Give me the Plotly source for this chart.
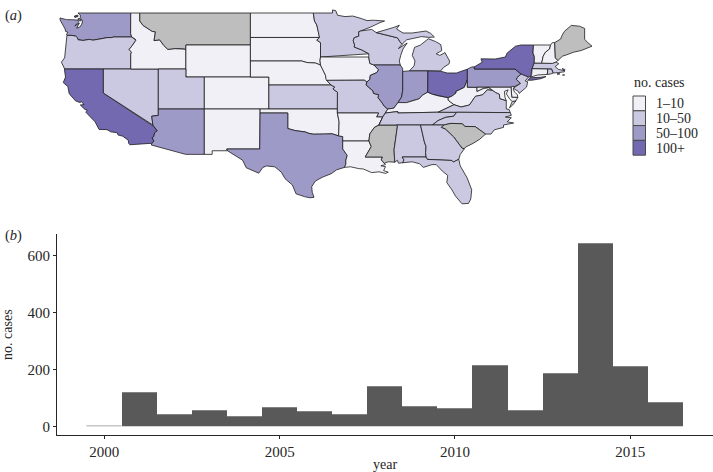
import plotly.graph_objects as go

# ---------- panel (b): annual case counts ----------
YEARS = list(range(2000, 2017))
CASES = [1, 118, 42, 57, 36, 67, 54, 42, 140, 70, 64, 214, 56, 187, 642, 210, 84]
X_TICKS = [2000, 2005, 2010, 2015]
Y_TICKS = [0, 200, 400, 600]

# ---------- panel (a): case class per state ----------
CLASS_LABELS = ["1\u201310", "10\u201350", "50\u2013100", "100+"]
CLASS_COLOURS = ["#F2F0F7", "#CBC9E2", "#9E9AC8", "#7369B0"]
NO_DATA_COLOUR = "#BEBEBE"
STATE_CLASS = {
    "WA": 2, "OR": 1, "CA": 3, "NV": 1, "ID": 0, "MT": None, "WY": 0, "UT": 1, "AZ": 2,
    "CO": 0, "NM": 0, "ND": 0, "SD": 0, "NE": 0, "KS": 1, "OK": 0, "TX": 2, "MN": 1,
    "IA": 0, "MO": 1, "AR": 0, "LA": 0, "WI": 1, "IL": 2, "MS": None, "MI": 1, "IN": 2,
    "KY": 0, "TN": 1, "AL": 1, "OH": 3, "WV": 0, "VA": 1, "NC": 1, "SC": None, "GA": 1,
    "FL": 1, "PA": 2, "NY": 3, "NJ": 1, "DE": 0, "MD": 0, "CT": 0, "RI": 1, "MA": 1,
    "VT": 0, "NH": 0, "ME": None,
}

# ---------- state outlines, (longitude, latitude) ----------
COLUMBIA = [(-123.95,46.2),(-123.4,46.2),(-123.0,46.1),(-122.8,45.9),(-122.75,45.65),(-122.2,45.57),(-121.5,45.7),(-121.15,45.6),(-120.5,45.72),(-119.6,45.92),(-119.0,45.93),(-118.98,46.0),(-116.92,46.0)]
SNAKE = [(-116.92,46.0),(-116.55,45.75),(-116.47,45.6),(-116.85,44.95),(-117.2,44.45),(-117.03,44.2),(-116.95,44.1),(-117.03,43.85),(-117.03,42.0)]
BITTERROOT = [(-116.05,49),(-116.05,48.0),(-115.7,47.45),(-114.7,46.7),(-114.35,46.65),(-114.5,45.55),(-113.9,45.65),(-113.45,44.95),(-113.0,44.45),(-112.3,44.55),(-111.5,44.55),(-111.05,44.48)]
COLORADO_R = [(-114.75,36.1),(-114.63,35.0),(-114.57,34.85),(-114.15,34.27),(-114.43,34.05),(-114.53,33.55),(-114.72,33.4),(-114.5,33.0),(-114.72,32.72)]
RED_R = [(-100,34.56),(-99.2,34.3),(-98.1,34.13),(-97.7,33.95),(-97.2,33.85),(-96.6,33.85),(-96.0,33.85),(-95.2,33.9),(-94.48,33.64)]
MISSOURI_R = [(-98.5,43.0),(-97.9,42.8),(-97.0,42.75),(-96.45,42.49),(-96.35,42.2),(-96.1,41.7),(-95.9,41.2),(-95.85,40.7),(-95.77,40.58),(-95.31,40.0)]
RED_N = [(-97.23,49),(-97.1,48.0),(-96.85,47.5),(-96.6,46.3),(-96.56,45.94)]
MN_SD = [(-96.56,45.94),(-96.85,45.6),(-96.45,45.3),(-96.45,43.5)]
MN_WI = [(-92.1,46.75),(-92.3,46.66),(-92.3,46.1),(-92.8,45.9),(-92.9,45.55),(-92.75,45.0),(-92.8,44.75),(-91.95,44.37),(-91.2,43.9),(-91.22,43.5)]
UPPER_MISS = [(-91.22,43.5),(-91.1,42.7),(-90.65,42.5),(-90.15,41.9),(-90.35,41.55),(-91.05,41.2),(-91.1,40.7),(-91.42,40.38)]
MO_IL = [(-91.42,40.38),(-91.5,40.0),(-90.75,39.25),(-90.7,38.95),(-90.15,38.8),(-90.2,38.4),(-89.85,37.9),(-89.5,37.3),(-89.15,37.0)]
LOWER_MISS = [(-89.7,36.0),(-90.1,35.0),(-90.6,34.7),(-91.1,33.9),(-91.2,33.0)]
LA_MS = [(-91.2,33.0),(-90.95,32.3),(-91.6,31.0),(-89.73,31.0),(-89.85,30.65),(-89.55,30.2)]
OHIO_IL = [(-89.15,37.0),(-88.5,37.1),(-88.05,37.8)]
OHIO_IN = [(-88.05,37.8),(-87.1,37.8),(-86.3,38.1),(-85.75,38.27),(-85.4,38.72),(-84.82,39.1)]
OHIO_OH = [(-84.82,39.1),(-84.3,38.85),(-83.7,38.65),(-82.6,38.42)]
OHIO_WV = [(-82.6,38.42),(-82.2,38.6),(-81.75,39.0),(-81.75,39.2),(-80.85,39.7),(-80.52,40.64)]
KY_WV = [(-82.6,38.42),(-82.6,38.1),(-81.97,37.54)]
VA_WV = [(-81.97,37.54),(-81.2,37.25),(-80.3,37.5),(-79.65,38.58),(-78.87,38.77),(-78.35,39.4),(-77.75,39.32)]
POTOMAC = [(-77.75,39.32),(-77.5,39.1),(-77.05,38.85),(-77.0,38.3),(-76.3,38.05)]
MD_WV = [(-77.75,39.32),(-78.2,39.68),(-78.75,39.6),(-79.48,39.2),(-79.48,39.72)]
TN_NC = [(-84.32,35.0),(-83.7,35.55),(-82.9,35.95),(-82.0,36.1),(-81.68,36.59)]
NC_SC = [(-83.1,35.0),(-82.3,35.2),(-81.05,35.15),(-80.8,34.82),(-79.67,34.8),(-78.55,33.86)]
SAVANNAH = [(-83.1,35.0),(-83.35,34.7),(-82.9,34.48),(-82.0,33.5),(-81.4,32.6),(-81.1,32.1),(-80.85,32.03)]
AL_GA = [(-85.6,35.0),(-85.18,32.87),(-85.0,32.3),(-85.05,31.55),(-85.0,31.0)]
GA_FL = [(-85.0,31.0),(-84.86,30.7),(-82.2,30.57),(-82.05,30.36),(-81.45,30.72)]
TX_LA = [(-94.04,33.0),(-94.04,32.0),(-93.55,31.2),(-93.7,30.6),(-93.7,30.1),(-93.85,29.7)]
NY_PA = [(-79.76,42.0),(-75.35,42.0),(-74.7,41.36)]
DELAWARE_R = [(-74.7,41.36),(-75.1,40.95),(-75.2,40.7),(-74.75,40.2),(-75.4,39.8)]
MI_WI = [(-90.4,46.55),(-89.1,46.15),(-88.1,45.9),(-87.8,45.35),(-87.6,45.1)]
VT_NH = [(-71.5,45.0),(-71.6,44.5),(-72.05,44.1),(-72.3,43.6),(-72.46,42.73)]
NY_NE = [(-73.35,45.0),(-73.4,44.0),(-73.25,43.55),(-73.27,42.75),(-73.5,42.05),(-73.55,41.3),(-73.65,41.0)]
NH_ME = [(-71.05,45.3),(-70.98,43.4),(-70.7,43.07)]

def rev(p):
    return list(reversed(p))

WA = [[(-122.75,49),(-117.03,49),(-117.04,46.42),(-116.92,46.0)] + rev(COLUMBIA) +
      [(-124.0,46.3),(-123.85,46.6),(-124.1,46.7),(-124.15,47.0),(-124.4,47.6),(-124.7,48.15),(-124.7,48.38),(-124.0,48.17),(-123.2,48.15),(-122.75,48.1),(-122.65,47.9),(-122.95,47.55),(-123.1,47.4),(-122.6,47.75),(-122.9,47.1),(-122.55,47.25),(-122.35,47.6),(-122.25,48.0),(-122.5,48.4),(-122.5,48.75)],
      [(-122.75,48.15),(-122.4,48.0),(-122.55,48.3),(-122.75,48.3)],
      [(-123.15,48.5),(-122.95,48.45),(-122.95,48.65),(-123.1,48.65)],
      [(-122.95,48.55),(-122.75,48.55),(-122.75,48.72),(-122.95,48.7)]]
OR = [COLUMBIA + SNAKE[1:] + [(-124.2,42),(-124.4,42.5),(-124.55,42.85),(-124.2,43.4),(-124.1,44.5),(-123.95,45.5)]]
CA = [[(-124.2,42),(-120,42),(-120,39)] + COLORADO_R[1:] +
      [(-117.12,32.53),(-117.25,32.7),(-117.3,33.1),(-117.9,33.6),(-118.4,33.75),(-118.5,34.03),(-119.2,34.15),(-119.6,34.42),(-120.47,34.45),(-120.65,34.9),(-120.9,35.4),(-121.9,36.6),(-121.75,36.85),(-122.0,36.95),(-122.5,37.5),(-122.1,37.55),(-122.4,37.95),(-122.5,37.8),(-123.0,38.0),(-123.7,38.9),(-123.85,39.8),(-124.35,40.3),(-124.1,41.0),(-124.2,41.75)]]
NV = [[(-120,42),(-114.04,42),(-114.04,36.2),(-114.75,36.1),(-114.63,35.0),(-120,39)]]
ID = [[(-117.03,49)] + BITTERROOT + [(-111.05,42),(-117.03,42)] + rev(SNAKE)[1:] + [(-117.04,46.42)]]
MT = [[(-116.05,49),(-104.05,49),(-104.05,45),(-111.05,45)] + rev(BITTERROOT)[:-1]]
WY = [[(-111.05,45),(-104.05,45),(-104.05,41),(-111.05,41)]]
UT = [[(-114.04,42),(-111.05,42),(-111.05,41),(-109.05,41),(-109.05,37),(-114.04,37)]]
AZ = [[(-114.04,37),(-109.05,37),(-109.05,31.33),(-111.07,31.33),(-114.8,32.5)] + rev(COLORADO_R) + [(-114.04,36.2)]]
CO = [[(-109.05,41),(-102.05,41),(-102.05,37),(-109.05,37)]]
NM = [[(-109.05,37),(-103,37),(-103.04,32),(-106.62,32),(-106.53,31.78),(-108.2,31.78),(-108.2,31.33),(-109.05,31.33)]]
ND = [[(-104.05,49)] + RED_N + [(-104.05,45.94)]]
SD = [[(-104.05,45.94)] + MN_SD + [(-96.5,43.05)] + rev(MISSOURI_R[:4]) + [(-104.05,43)]]
NE = [[(-104.05,43)] + MISSOURI_R + [(-102.05,40),(-102.05,41),(-104.05,41)]]
KS = [[(-102.05,40),(-95.31,40),(-94.9,39.75),(-95.1,39.5),(-94.61,39.1),(-94.62,37),(-102.05,37)]]
OK = [[(-103,37),(-94.62,37),(-94.62,36.5),(-94.43,35.4)] + rev(RED_R) + [(-100,36.5),(-103,36.5)]]
TX = [[(-103,36.5),(-100,36.5)] + RED_R + [(-94.04,33.55)] + TX_LA +
      [(-94.7,29.4),(-95.0,29.2),(-95.3,28.9),(-96.2,28.5),(-97.0,28.0),(-97.4,27.3),(-97.35,26.6),(-97.15,25.96),(-97.6,25.9),(-98.2,26.05),(-99.1,26.4),(-99.5,27.5),(-100.3,28.3),(-100.7,29.1),(-101.4,29.77),(-102.3,29.88),(-102.7,29.7),(-103.15,28.98),(-104.5,29.65),(-104.9,30.6),(-106.0,31.4),(-106.53,31.78),(-106.62,32),(-103.04,32)]]
MN = [RED_N + MN_SD[1:] + rev(MN_WI)[1:] + [(-91.0,47.25),(-90.0,47.8),(-89.5,48.0),(-90.75,48.1),(-91.4,48.05),(-92.0,48.3),(-92.95,48.62),(-93.8,48.55),(-94.6,48.72),(-94.8,49.3),(-95.15,49.38),(-95.15,49)]]
IA = [[(-96.45,43.5)] + UPPER_MISS + [(-91.7,40.6),(-95.77,40.58)] + rev(MISSOURI_R[3:9]) + [(-96.5,43.05)]]
MO = [[(-95.77,40.58),(-91.7,40.6)] + MO_IL + [(-89.4,36.5),(-89.7,36.0),(-90.37,36.0),(-90.15,36.5),(-94.62,36.5),(-94.62,37),(-94.61,39.1),(-95.1,39.5),(-94.9,39.75),(-95.31,40)]]
AR = [[(-94.62,36.5),(-90.15,36.5),(-90.37,36.0)] + LOWER_MISS + [(-94.04,33.0),(-94.04,33.55),(-94.48,33.64),(-94.43,35.4)]]
LA = [LA_MS + [(-89.4,30.05),(-89.9,29.9),(-89.4,29.8),(-89.6,29.3),(-89.1,29.1),(-89.4,28.95),(-90.1,29.15),(-90.9,29.05),(-91.8,29.5),(-92.3,29.55),(-93.2,29.78)] + rev(TX_LA)]
MS = [[(-90.1,35.0),(-88.2,35.0),(-88.1,34.9),(-88.47,31.9),(-88.4,30.35),(-89.1,30.4)] + rev(LA_MS) + rev(LOWER_MISS)[1:]]
AL = [[(-88.2,35.0)] + AL_GA + [(-87.6,31.0),(-87.4,30.65),(-87.52,30.28),(-88.0,30.23),(-88.1,30.6),(-88.4,30.35),(-88.47,31.9),(-88.1,34.9)]]
GA = [[(-85.6,35.0)] + SAVANNAH + [(-81.3,31.3)] + rev(GA_FL) + rev(AL_GA)[1:]]
FL = [[(-87.6,31.0)] + GA_FL + [(-81.3,29.9),(-80.9,29.0),(-80.55,28.4),(-80.05,26.9),(-80.15,25.75),(-80.4,25.2),(-81.1,25.15),(-81.8,26.1),(-82.2,26.9),(-82.75,27.8),(-82.65,28.7),(-83.2,29.2),(-83.9,30.05),(-84.35,30.05),(-85.3,29.7),(-85.7,30.15),(-86.5,30.4),(-87.52,30.28),(-87.4,30.65)]]
SC = [NC_SC + [(-79.2,33.2),(-79.9,32.7),(-80.7,32.25)] + rev(SAVANNAH)]
NC = [TN_NC[:1] + NC_SC + [(-77.95,33.87),(-77.6,34.4),(-76.6,34.7),(-76.6,35.0),(-76.0,35.1),(-75.5,35.25),(-76.2,35.4),(-75.75,35.9),(-76.4,36.0),(-75.75,36.2),(-75.87,36.55)] + rev(TN_NC)[:-1]]
TN = [[(-90.1,35.0),(-88.2,35.0),(-85.6,35.0)] + TN_NC + [(-83.68,36.6),(-88.07,36.5),(-88.07,36.68),(-89.42,36.5),(-89.7,36.0)]]
KY = [[(-89.42,36.5),(-89.15,37.0)] + OHIO_IL[1:] + OHIO_IN[1:] + OHIO_OH[1:] + KY_WV[1:] + [(-83.68,36.6),(-88.07,36.5),(-88.07,36.68)]]
IL = [[(-90.65,42.5),(-87.8,42.5),(-87.55,42.1),(-87.53,41.7),(-87.53,39.35),(-87.65,38.5)] + rev(OHIO_IL) + rev(MO_IL)[1:] + rev(UPPER_MISS[2:])[1:]]
IN = [[(-87.53,41.7),(-87.2,41.76),(-86.8,41.76),(-84.8,41.76),(-84.82,39.1)] + rev(OHIO_IN)[1:] + [(-87.65,38.5),(-87.53,39.35)]]
OH = [[(-84.8,41.76),(-83.45,41.73),(-82.7,41.5),(-81.7,41.5),(-80.52,41.98),(-80.52,40.64)] + rev(OHIO_WV)[1:] + rev(OHIO_OH)[1:]]
WV = [[(-80.52,40.64),(-80.52,39.72),(-79.48,39.72)] + rev(MD_WV)[1:] + rev(VA_WV)[1:] + rev(KY_WV)[1:] + OHIO_WV[1:-1]]
VA = [[(-81.68,36.59),(-75.87,36.55),(-76.0,36.95),(-76.3,37.0),(-76.3,37.5),(-76.3,38.05)] + rev(POTOMAC)[1:] + rev(VA_WV)[1:] + [(-83.68,36.6)],
      [(-75.95,37.15),(-75.65,37.95),(-75.25,38.03),(-75.6,37.5)]]
MD = [[(-79.48,39.72),(-75.79,39.72),(-75.7,38.46),(-75.05,38.45),(-75.25,38.03),(-75.65,37.95),(-75.9,38.2),(-76.3,38.9),(-76.1,39.4),(-76.5,39.2),(-76.45,38.5),(-76.4,38.3),(-76.3,38.05)] + POTOMAC[::-1][1:] + MD_WV[1:]]
DE = [[(-75.79,39.72),(-75.6,39.83),(-75.4,39.8),(-75.55,39.5),(-75.4,39.1),(-75.1,38.8),(-75.05,38.45),(-75.7,38.46)]]
PA = [[(-80.52,41.98),(-80.05,42.25),(-79.76,42.27)] + NY_PA + DELAWARE_R[1:] + [(-75.6,39.83),(-75.79,39.72),(-80.52,39.72)]]
NJ = [[(-74.7,41.36),(-73.9,41.0),(-74.25,40.5),(-73.98,40.4),(-74.1,39.75),(-74.9,38.95),(-75.0,39.2),(-75.55,39.6),(-74.75,40.2),(-75.2,40.7),(-75.1,40.95)]]
NY = [[(-79.76,42.27),(-78.9,42.85),(-79.05,43.27),(-77.5,43.25),(-76.4,43.5),(-76.2,44.0),(-75.3,44.85),(-74.7,45.0)] + NY_NE + [(-73.9,41.0)] + rev(NY_PA),
      [(-74.0,40.6),(-73.7,40.9),(-72.6,40.97),(-72.0,41.05),(-72.5,40.8),(-73.5,40.6)]]
CT = [[(-73.5,42.05),(-71.8,42.02),(-71.85,41.32),(-72.9,41.25),(-73.65,41.0),(-73.55,41.3)]]
RI = [[(-71.8,42.02),(-71.38,42.02),(-71.2,41.5),(-71.5,41.37),(-71.85,41.32)]]
MA = [[(-73.5,42.05),(-73.27,42.75),(-72.46,42.73),(-71.3,42.7),(-70.9,42.88),(-70.6,42.65),(-71.0,42.3),(-70.65,41.95),(-70.0,41.8),(-70.25,42.05),(-69.95,41.95),(-70.0,41.65),(-70.65,41.55),(-71.2,41.5),(-71.38,42.02),(-71.8,42.02)],
      [(-70.8,41.35),(-70.5,41.35),(-70.55,41.45),(-70.7,41.45)],
      [(-70.2,41.25),(-69.97,41.25),(-70.0,41.32),(-70.2,41.3)]]
VT = [[(-73.35,45.0)] + VT_NH + [(-73.27,42.75),(-73.25,43.55),(-73.4,44.0)]]
NH = [VT_NH + [(-71.3,42.7),(-70.9,42.88)] + rev(NH_ME) + [(-71.3,45.3)]]
ME = [NH_ME + [(-70.2,43.6),(-69.8,43.75),(-69.0,44.1),(-68.2,44.3),(-67.0,44.85),(-67.45,45.3),(-67.8,45.7),(-67.8,47.07),(-68.35,47.35),(-69.25,47.45),(-70.0,46.7),(-70.25,46.2),(-70.4,45.75)]]
WI = [MN_WI + [(-91.1,42.7),(-90.65,42.5),(-87.8,42.5),(-87.9,43.0),(-87.75,43.7),(-87.5,44.5),(-87.05,45.25),(-87.5,44.9),(-88.0,44.55),(-87.6,45.1)] + rev(MI_WI)[1:] + [(-90.9,46.95)]]
MI = [MI_WI + [(-87.1,45.65),(-86.5,45.8),(-85.5,46.05),(-84.7,45.95),(-84.1,46.0),(-84.5,46.45),(-85.0,46.75),(-86.5,46.5),(-87.5,46.5),(-88.2,47.0),(-87.9,47.47),(-88.5,47.2),(-89.5,46.85)],
      [(-84.8,41.76),(-86.8,41.76),(-86.3,42.4),(-86.2,43.0),(-86.5,43.7),(-86.25,44.7),(-85.6,45.0),(-85.0,45.6),(-84.75,45.78),(-84.0,45.45),(-83.4,45.05),(-83.3,44.3),(-83.9,43.9),(-83.5,43.7),(-82.95,44.05),(-82.45,43.0),(-82.5,42.65),(-83.1,42.2),(-83.45,41.73)]]

OUTLINES = dict(WA=WA, OR=OR, CA=CA, NV=NV, ID=ID, MT=MT, WY=WY, UT=UT, AZ=AZ, CO=CO, NM=NM,
                ND=ND, SD=SD, NE=NE, KS=KS, OK=OK, TX=TX, MN=MN, IA=IA, MO=MO, AR=AR, LA=LA,
                WI=WI, IL=IL, MS=MS, MI=MI, IN=IN, KY=KY, TN=TN, AL=AL, OH=OH, WV=WV, VA=VA,
                NC=NC, SC=SC, GA=GA, FL=FL, PA=PA, NY=NY, NJ=NJ, DE=DE, MD=MD, CT=CT, RI=RI,
                MA=MA, VT=VT, NH=NH, ME=ME)

W, H = 713, 472
SERIF = "Liberation Serif"
INK = "#262626"

fig = go.Figure()

# map, on plain longitude / latitude axes
for st, rings in OUTLINES.items():
    xs, ys = [], []
    for ring in rings:
        closed = ring + ring[:1]
        xs += [p[0] for p in closed] + [None]
        ys += [p[1] for p in closed] + [None]
    k = STATE_CLASS[st]
    fig.add_trace(go.Scatter(
        x=xs, y=ys, mode="lines", fill="toself", name=st, showlegend=False, hoverinfo="name",
        fillcolor=NO_DATA_COLOUR if k is None else CLASS_COLOURS[k],
        line=dict(color="#1c1c1c", width=0.8), xaxis="x2", yaxis="y2"))

# histogram-like bars
fig.add_trace(go.Bar(
    x=YEARS, y=CASES, width=1, showlegend=False,
    marker=dict(color="#595959",
                line=dict(color="#c4c4c4", width=[1] + [0] * (len(YEARS) - 1)))))

axis_font = dict(family=SERIF, size=15, color=INK)
fig.update_layout(
    width=W, height=H, margin=dict(l=0, r=0, t=0, b=0), autosize=False,
    paper_bgcolor="white", plot_bgcolor="white", bargap=0,
    font=dict(family=SERIF, color=INK, size=14),
    xaxis=dict(domain=[57 / W, 1], range=[1998.65, 2017.36], tickvals=X_TICKS, ticks="outside",
               ticklen=3, tickcolor=INK, showline=True, linecolor=INK, linewidth=1,
               showgrid=False, zeroline=False, tickfont=axis_font, anchor="y", automargin=False,
               title=dict(text="year", font=dict(family=SERIF, size=14, color=INK))),
    yaxis=dict(domain=[1 - 435 / H, 1 - 234.3 / H], range=[-30.5, 673.7], tickvals=Y_TICKS,
               ticks="outside", ticklen=3, tickcolor=INK, showline=True, linecolor=INK, linewidth=1,
               showgrid=False, zeroline=False, tickfont=axis_font, anchor="x", automargin=False,
               title=dict(text="no. cases", font=dict(family=SERIF, size=14, color=INK), standoff=11)),
    xaxis2=dict(domain=[0, 1], range=[-131.21, -53.88], visible=False, anchor="y2", fixedrange=True),
    yaxis2=dict(domain=[1 - 215 / H, 1], range=[23.75, 50.625], visible=False, anchor="x2", fixedrange=True),
)

def px(x):
    return x / W

def py(y):
    return 1 - y / H

# panel tags
for tag, y in (("a", 15), ("b", 235)):
    fig.add_annotation(text=f"(<i>{tag}</i>)", x=px(3), y=py(y), xref="paper", yref="paper",
                       xanchor="left", yanchor="middle", showarrow=False,
                       font=dict(family=SERIF, size=14.5, color=INK))

# legend
fig.add_annotation(text="no. cases", x=px(632), y=py(83), xref="paper", yref="paper",
                   xanchor="left", yanchor="middle", showarrow=False,
                   font=dict(family=SERIF, size=14, color=INK))
for i, (label, colour) in enumerate(zip(CLASS_LABELS, CLASS_COLOURS)):
    top = 96 + i * 14.8
    fig.add_shape(type="rect", xref="paper", yref="paper", x0=px(633), x1=px(645.5),
                  y0=py(top + 14.8), y1=py(top), fillcolor=colour,
                  line=dict(color="#4a4a4a", width=1))
    fig.add_annotation(text=label, x=px(654), y=py(top + 7.6), xref="paper", yref="paper",
                       xanchor="left", yanchor="middle", showarrow=False,
                       font=dict(family=SERIF, size=14, color=INK))

fig.write_html("out.html", config={"displayModeBar": False},
               post_script="document.body.style.margin='0';")
